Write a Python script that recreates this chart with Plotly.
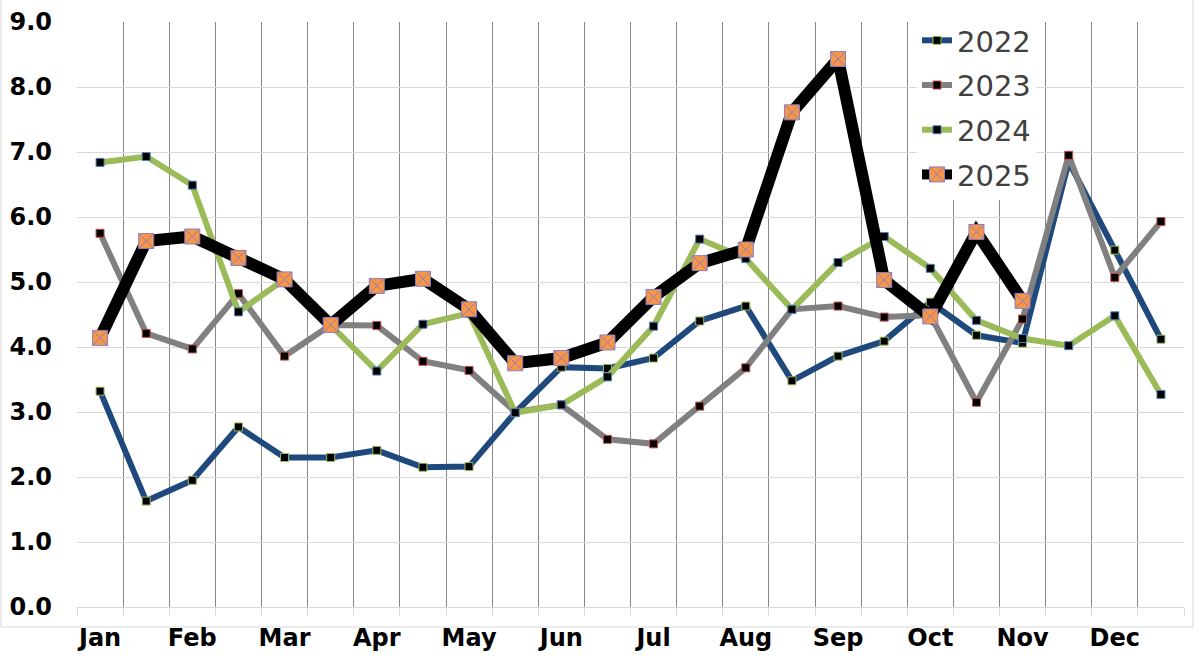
import plotly.graph_objects as go

# ---- data (semi-monthly readings, 24 per year) ----
periods = list(range(24))
month_labels = ["Jan", "Feb", "Mar", "Apr", "May", "Jun",
                "Jul", "Aug", "Sep", "Oct", "Nov", "Dec"]

y2022 = [3.32, 1.63, 1.95, 2.77, 2.30, 2.30, 2.41, 2.15, 2.16, 2.99, 3.69, 3.67,
         3.83, 4.40, 4.63, 3.48, 3.86, 4.09, 4.69, 4.18, 4.06, 6.85, 5.49, 4.12]
y2023 = [5.75, 4.21, 3.97, 4.82, 3.86, 4.34, 4.33, 3.78, 3.64, 3.00, 3.11, 2.58,
         2.51, 3.09, 3.68, 4.58, 4.63, 4.46, 4.49, 3.15, 4.43, 6.95, 5.07, 5.93]
y2024 = [6.84, 6.93, 6.49, 4.54, 5.04, 4.35, 3.63, 4.35, 4.52, 2.99, 3.11, 3.54,
         4.32, 5.66, 5.36, 4.58, 5.30, 5.70, 5.21, 4.41, 4.13, 4.02, 4.48, 3.27]
y2025 = [4.14, 5.63, 5.70, 5.37, 5.04, 4.34, 4.94, 5.05, 4.58, 3.75, 3.83, 4.07,
         4.77, 5.29, 5.50, 7.61, 8.43, 5.03, 4.47, 5.77, 4.71, None, None, None]

series = [
    ("2022", y2022, "#1F497D", 6, dict(symbol="square", size=8, color="black",
                                        line=dict(color="#9BBB59", width=1))),
    ("2023", y2023, "#808080", 6, dict(symbol="square", size=8, color="black",
                                        line=dict(color="#C0504D", width=1))),
    ("2024", y2024, "#9BBB59", 6, dict(symbol="square", size=8, color="black",
                                        line=dict(color="#4F81BD", width=1))),
    ("2025", y2025, "#000000", 12, dict(symbol="square-x", size=15, color="#F79646",
                                         line=dict(color="#8C7CC0", width=1))),
]

fig = go.Figure()
for name, ys, lc, lw, mk in series:
    fig.add_trace(go.Scatter(
        x=periods, y=ys, name=name, mode="lines+markers",
        line=dict(color=lc, width=lw), marker=mk,
        legendgroup=name, connectgaps=False,
    ))

L, R, T, B = 77, 13, 22, 52
W, H = 1197, 659
pw, ph = W - L - R, H - T - B

fig.update_layout(
    width=W, height=H,
    margin=dict(l=L, r=R, t=T, b=B, autoexpand=False),
    paper_bgcolor="white", plot_bgcolor="white",
    showlegend=True,
    legend=dict(
        x=(917 - L) / pw, y=1.012, xanchor="left", yanchor="top",
        bgcolor="white", borderwidth=0,
        font=dict(family="DejaVu Sans", size=29, color="#404040"),
        tracegroupgap=4, itemwidth=30,
    ),
    xaxis=dict(
        range=[-0.5, 23.5], automargin=False,
        tickmode="array",
        tickvals=[2 * i for i in range(12)],
        ticktext=month_labels,
        ticks="", showgrid=False, zeroline=False,
        showline=False,
        ticklabelstandoff=14,
        tickfont=dict(family="DejaVu Sans", size=24, color="black", weight="bold"),
        minor=dict(
            tickvals=[i - 0.5 for i in range(25)],
            showgrid=True, gridcolor="#878787", gridwidth=1,
            ticks="outside", ticklen=8, tickcolor="#d9d9d9", tickwidth=1,
        ),
    ),
    yaxis=dict(
        range=[0, 9], dtick=1, tick0=0, tickformat=".1f", automargin=False,
        showgrid=True, gridcolor="#d9d9d9", gridwidth=1,
        zeroline=True, zerolinecolor="#d9d9d9", zerolinewidth=1,
        showline=False, ticks="",
        ticklabelstandoff=24,
        tickfont=dict(family="DejaVu Sans", size=24, color="black", weight="bold"),
    ),
)

# light outer chart border
fig.add_shape(type="rect", xref="paper", yref="paper",
              x0=(1 - L) / pw, x1=(1193 - L) / pw,
              y0=(H - T - 657) / ph, y1=(H - T - 1) / ph,
              line=dict(color="#d9d9d9", width=1), fillcolor="rgba(0,0,0,0)",
              layer="below")

# remove the browser's default page margin so the figure sits at the window origin
fig.write_html("out.html", config={"displayModeBar": False},
               post_script="document.body.style.margin='0px';")
